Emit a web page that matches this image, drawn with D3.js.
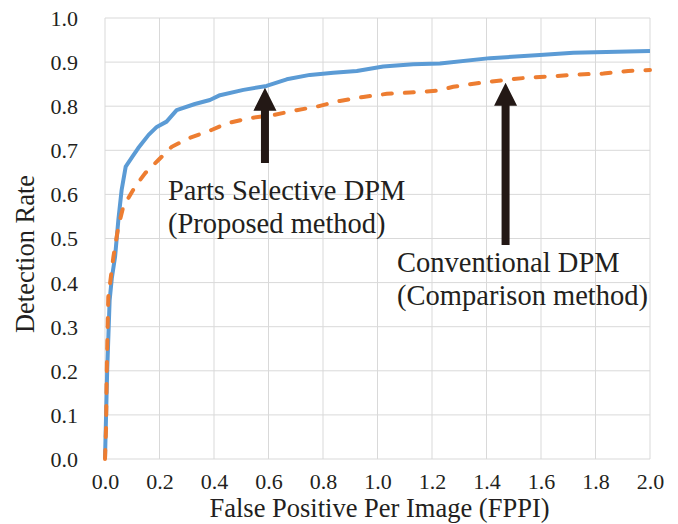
<!DOCTYPE html>
<html>
<head>
<meta charset="utf-8">
<script src="https://cdn.jsdelivr.net/npm/d3@7"></script>
<style>
	body {margin: 0; background: #fff;}
	svg {display: block;}
	text {font-family: "Liberation Serif", "Times New Roman", serif; fill: #231f20;}
</style>
</head>
<body>
<svg></svg>
<script>
// proposed method (Parts Selective DPM)
var proposedFppi = [0, 0.008, 0.017, 0.025, 0.037, 0.049, 0.061, 0.076, 0.1, 0.122, 0.16, 0.19, 0.226, 0.263, 0.33, 0.385, 0.422, 0.508, 0.593, 0.667, 0.752, 0.838, 0.924, 1.021, 1.131, 1.229, 1.413, 1.596, 1.719, 2.0]
var proposedRate = [0, 0.2, 0.36, 0.41, 0.459, 0.542, 0.61, 0.663, 0.685, 0.705, 0.735, 0.753, 0.765, 0.791, 0.805, 0.814, 0.825, 0.837, 0.846, 0.861, 0.871, 0.876, 0.88, 0.89, 0.895, 0.897, 0.909, 0.916, 0.921, 0.925]

// comparison method (Conventional DPM)
var conventionalFppi = [0, 0.004, 0.006, 0.01, 0.012, 0.031, 0.049, 0.067, 0.11, 0.147, 0.196, 0.245, 0.306, 0.391, 0.447, 0.532, 0.618, 0.703, 0.777, 0.862, 0.948, 1.034, 1.119, 1.217, 1.278, 1.376, 1.462, 1.553, 1.645, 1.737, 1.829, 1.92, 2.0]
var conventionalRate = [0, 0.073, 0.186, 0.308, 0.367, 0.459, 0.527, 0.572, 0.617, 0.648, 0.678, 0.708, 0.727, 0.746, 0.761, 0.773, 0.78, 0.791, 0.799, 0.812, 0.821, 0.828, 0.831, 0.835, 0.844, 0.853, 0.859, 0.865, 0.868, 0.872, 0.874, 0.88, 0.882]

var xTicks = [0, 0.2, 0.4, 0.6, 0.8, 1.0, 1.2, 1.4, 1.6, 1.8, 2.0]
var yTicks = [0, 0.1, 0.2, 0.3, 0.4, 0.5, 0.6, 0.7, 0.8, 0.9, 1.0]

// arrows: x, tip rate, tail rate
var arrowX = [0.587, 1.47]
var arrowTip = [0.842, 0.853]
var arrowTail = [0.671, 0.485]

var labelLines = [['Parts Selective DPM', '(Proposed method)'], ['Conventional DPM', '(Comparison method)']]
var labelX = [0.231, 1.072]
var labelRate = [0.587, 0.424]

var width = 678
var height = 524
var margin = {top: 18, right: 28, bottom: 65, left: 105}

var svg = d3.select('svg').attr('width', width).attr('height', height)

var x = d3.scaleLinear().domain([0, 2]).range([margin.left, width - margin.right])
var y = d3.scaleLinear().domain([0, 1]).range([height - margin.bottom, margin.top])

// gridlines
var grid = svg.append('g').attr('class', 'grid')
grid.selectAll('line.v').data(xTicks).enter().append('line')
	.attr('x1', function(d) {return x(d)}).attr('x2', function(d) {return x(d)})
	.attr('y1', y(0)).attr('y2', y(1))
	.attr('stroke', '#d9d9d9').attr('stroke-width', 1)
grid.selectAll('line.h').data(yTicks).enter().append('line')
	.attr('x1', x(0)).attr('x2', x(2))
	.attr('y1', function(d) {return y(d)}).attr('y2', function(d) {return y(d)})
	.attr('stroke', '#d9d9d9').attr('stroke-width', 1)

// axes (labels only)
var xAxis = svg.append('g')
	.attr('transform', 'translate(0,' + (height - margin.bottom) + ')')
	.call(d3.axisBottom(x).tickValues(xTicks).tickFormat(d3.format('.1f')).tickSize(0).tickPadding(14))
var yAxis = svg.append('g')
	.attr('transform', 'translate(' + margin.left + ',0)')
	.call(d3.axisLeft(y).tickValues(yTicks).tickFormat(d3.format('.1f')).tickSize(0).tickPadding(27))
svg.selectAll('.domain').remove()
svg.selectAll('.tick text').attr('font-size', 22).attr('font-family', '"Liberation Serif", serif').attr('fill', '#231f20')
yAxis.selectAll('.tick text').attr('dy', '0.34em')

svg.append('text')
	.attr('x', (x(0) + x(2)) / 2 + 2)
	.attr('y', 517)
	.attr('text-anchor', 'middle')
	.attr('font-size', 26.5)
	.text('False Positive Per Image (FPPI)')

svg.append('text')
	.attr('transform', 'translate(34,' + 254 + ') rotate(-90)')
	.attr('text-anchor', 'middle')
	.attr('font-size', 26.5)
	.text('Detection Rate')

// curves
var line = d3.line().x(function(d) {return x(d[0])}).y(function(d) {return y(d[1])})
var conventional = conventionalFppi.map(function(v, i) {return [v, conventionalRate[i]]})
var proposed = proposedFppi.map(function(v, i) {return [v, proposedRate[i]]})

svg.append('path').datum(proposed)
	.attr('d', line)
	.attr('fill', 'none')
	.attr('stroke', '#5b9bd5')
	.attr('stroke-width', 4)
	.attr('stroke-linejoin', 'round')

svg.append('path').datum(conventional)
	.attr('d', line)
	.attr('fill', 'none')
	.attr('stroke', '#ed7d31')
	.attr('stroke-width', 4)
	.attr('stroke-linecap', 'round')
	.attr('stroke-dasharray', '9,13')

// arrows
arrowX.forEach(function(ax, i) {
	var cx = x(ax), tip = y(arrowTip[i]), tail = y(arrowTail[i])
	var sw = 4, hw = 11.5, hl = 23
	var pts = [[cx, tip], [cx + hw, tip + hl], [cx + sw, tip + hl], [cx + sw, tail], [cx - sw, tail], [cx - sw, tip + hl], [cx - hw, tip + hl]]
	svg.append('path')
		.attr('d', 'M' + pts.join('L') + 'Z')
		.attr('fill', '#231815')
})

// annotation labels
labelLines.forEach(function(lines, i) {
	var t = svg.append('text')
		.attr('x', x(labelX[i]))
		.attr('y', y(labelRate[i]))
		.attr('font-size', 28.5)
	lines.forEach(function(s, j) {
		t.append('tspan').attr('x', x(labelX[i])).attr('dy', j == 0 ? 0 : 33).text(s)
	})
})
</script>
</body>
</html>
